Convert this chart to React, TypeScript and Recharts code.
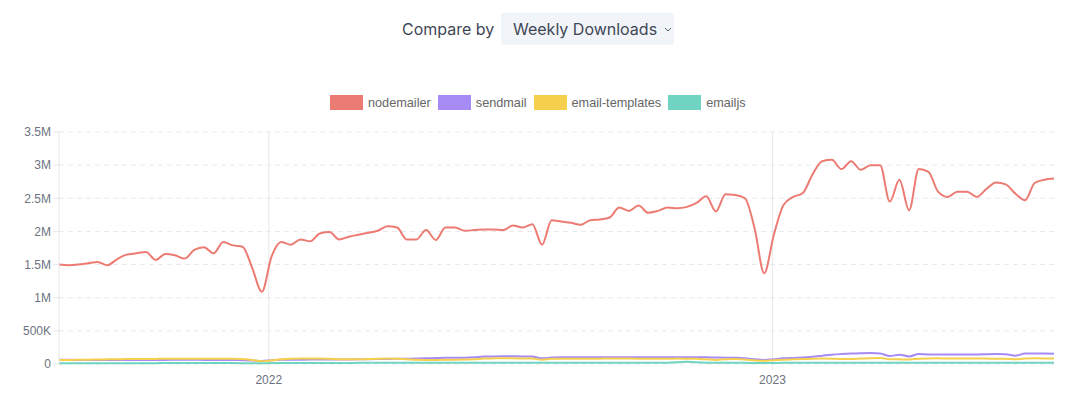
import { LineChart, Line, XAxis, YAxis, CartesianGrid, ReferenceLine } from 'recharts';

const seriesNames = ['nodemailer', 'sendmail', 'email-templates', 'emailjs'];
const seriesColors = ['#ec7b73', '#a78bf5', '#f6d04d', '#6fd4c1'];

// weekly buckets, first week starting 2021-08-02
const firstWeek = Date.UTC(2021, 7, 2);
const yearTicks = [Date.UTC(2022, 0, 1), Date.UTC(2023, 0, 1)];
const valueTicks = [0, 500000, 1000000, 1500000, 2000000, 2500000, 3000000, 3500000];

// values in millions
const nodemailer = [
  1.5, 1.49, 1.5, 1.52, 1.54, 1.49, 1.58, 1.65, 1.67, 1.69,
  1.57, 1.66, 1.64, 1.59, 1.72, 1.76, 1.67, 1.84, 1.79, 1.77,
  1.45, 1.09, 1.62, 1.84, 1.8, 1.88, 1.85, 1.97, 1.99, 1.88,
  1.92, 1.95, 1.98, 2.01, 2.08, 2.06, 1.88, 1.88, 2.02, 1.87,
  2.06, 2.06, 2.01, 2.02, 2.03, 2.03, 2.02, 2.09, 2.06, 2.11,
  1.8, 2.17, 2.15, 2.13, 2.1, 2.17, 2.18, 2.21, 2.36, 2.31,
  2.39, 2.28, 2.31, 2.36, 2.35, 2.37, 2.43, 2.53, 2.3, 2.56,
  2.55, 2.5, 2.05, 1.37, 1.95, 2.4, 2.52, 2.58, 2.86, 3.06,
  3.08, 2.94, 3.06, 2.93, 3.0, 3.0, 2.45, 2.78, 2.32, 2.94,
  2.9, 2.6, 2.52, 2.6, 2.6, 2.52, 2.64, 2.74, 2.71, 2.57,
  2.47, 2.73, 2.78, 2.8,
];

// values in thousands
const sendmail = [
  64, 63, 62, 61, 60, 60, 60, 61, 61, 62,
  62, 62, 63, 63, 63, 62, 62, 61, 60, 58,
  54, 45, 58, 63, 64, 65, 66, 67, 68, 68,
  69, 70, 72, 74, 76, 78, 80, 82, 85, 90,
  95, 93, 94, 100, 112, 115, 116, 116, 115, 112,
  85, 98, 100, 100, 101, 100, 100, 101, 101, 100,
  100, 100, 100, 100, 101, 103, 102, 100, 98, 96,
  93, 85, 72, 60, 72, 85, 92, 98, 110, 125,
  140, 150, 158, 163, 165, 160, 120, 140, 115, 150,
  145, 145, 143, 142, 142, 145, 148, 150, 148, 125,
  158, 160, 157, 155,
];

const emailTemplates = [
  62, 62, 63, 65, 68, 70, 72, 74, 75, 76,
  77, 78, 78, 79, 80, 80, 79, 78, 78, 76,
  62, 42, 55, 70, 78, 82, 83, 82, 78, 72,
  70, 70, 75, 80, 82, 80, 70, 65, 62, 62,
  63, 65, 68, 72, 82, 85, 86, 86, 84, 82,
  65, 78, 80, 80, 80, 80, 81, 82, 82, 82,
  81, 80, 80, 80, 82, 80, 78, 70, 62, 72,
  75, 68, 55, 48, 58, 65, 70, 75, 80, 82,
  80, 75, 76, 82, 88, 90, 72, 70, 68, 80,
  84, 85, 84, 84, 83, 83, 82, 80, 80, 72,
  82, 85, 84, 82,
];

const emailjs = [
  12, 12, 12, 12, 13, 13, 13, 13, 13, 13,
  13, 14, 14, 14, 14, 14, 14, 14, 14, 13,
  12, 10, 14, 15, 15, 15, 16, 16, 16, 16,
  16, 17, 17, 17, 17, 17, 18, 18, 18, 18,
  18, 18, 18, 18, 18, 18, 18, 18, 18, 18,
  17, 18, 18, 18, 18, 18, 18, 18, 18, 18,
  18, 18, 18, 19, 25, 35, 25, 19, 18, 18,
  18, 17, 15, 14, 16, 18, 18, 18, 18, 19,
  19, 19, 19, 19, 19, 19, 18, 18, 18, 19,
  19, 19, 19, 19, 19, 19, 19, 19, 19, 19,
  19, 19, 19, 19,
];

const WEEK = 7 * 24 * 3600 * 1000;

const data = nodemailer.map((v, i) => ({
  week: firstWeek + i * WEEK,
  nodemailer: v * 1e6,
  sendmail: sendmail[i] * 1e3,
  'email-templates': emailTemplates[i] * 1e3,
  emailjs: emailjs[i] * 1e3,
}));

const formatCount = (v: number) => {
  if (v === 0) return '0';
  if (v >= 1e6) return `${v / 1e6}M`;
  return `${v / 1e3}K`;
};

const formatYear = (v: number) => String(new Date(v).getUTCFullYear());

const chartFont = '"Liberation Sans", Arial, Helvetica, sans-serif';

function Header() {
  return (
    <div
      style={{
        position: 'absolute',
        top: 13,
        left: 0,
        width: 1080,
        height: 32,
        fontFamily: 'Inter, sans-serif',
        fontSize: 16,
        color: '#3f4756',
      }}
    >
      <span style={{ position: 'absolute', left: 402, top: 0, lineHeight: '32px' }}>Compare by</span>
      <div
        style={{
          position: 'absolute',
          left: 501,
          top: 0,
          width: 173,
          height: 32,
          background: '#f1f4f8',
          borderRadius: 2,
        }}
      >
        <span style={{ position: 'absolute', left: 12, top: 0, lineHeight: '32px' }}>Weekly Downloads</span>
        <svg width="8" height="6" style={{ position: 'absolute', left: 163, top: 14 }}>
          <path d="M1 1 L4 4 L7 1" fill="none" stroke="#555d6b" strokeWidth="1" />
        </svg>
      </div>
    </div>
  );
}

function ChartLegend() {
  return (
    <div
      style={{
        position: 'absolute',
        top: 95,
        left: 330,
        display: 'flex',
        alignItems: 'center',
        fontFamily: chartFont,
        fontSize: 12.7,
        color: '#666',
        whiteSpace: 'nowrap',
      }}
    >
      {seriesNames.map((name, i) => (
        <div key={name} style={{ display: 'flex', alignItems: 'center', marginRight: 7 }}>
          <span
            style={{
              display: 'inline-block',
              width: 31,
              height: 13,
              background: seriesColors[i],
              border: `1px solid ${seriesColors[i]}`,
              marginRight: 5,
            }}
          />
          <span>{name}</span>
        </div>
      ))}
    </div>
  );
}

export default function App() {
  return (
    <div
      style={{
        position: 'absolute',
        left: 0,
        top: 0,
        width: 1080,
        height: 397,
        background: '#fff',
        overflow: 'hidden',
      }}
    >
      <Header />
      <ChartLegend />
      <div style={{ position: 'absolute', left: 0, top: 80 }}>
        <LineChart
          width={1080}
          height={317}
          data={data}
          margin={{ top: 52, right: 26, bottom: 3, left: 0 }}
          style={{ fontFamily: chartFont }}
        >
          <CartesianGrid vertical={false} stroke="#e8e9ec" strokeDasharray="5 4" />
          {yearTicks.map((t) => (
            <ReferenceLine key={t} x={t} stroke="#e8e8e8" />
          ))}
          <XAxis
            dataKey="week"
            type="number"
            scale="time"
            domain={['dataMin', 'dataMax']}
            ticks={yearTicks}
            tickFormatter={formatYear}
            axisLine={false}
            tickLine={{ stroke: '#e8e8e8' }}
            tickMargin={5}
            tick={{ fill: '#6b7280', fontSize: 12 }}
            height={30}
          />
          <YAxis
            width={59}
            domain={[0, 3500000]}
            ticks={valueTicks}
            tickFormatter={formatCount}
            axisLine={{ stroke: '#e8e8e8' }}
            tickLine={{ stroke: '#e8e9ec' }}
            tick={{ fill: '#6b7280', fontSize: 12 }}
            interval={0}
          />
          {seriesNames.map((name, i) => (
            <Line
              key={name}
              type="monotone"
              dataKey={name}
              stroke={seriesColors[i]}
              strokeWidth={2}
              dot={false}
              isAnimationActive={false}
            />
          ))}
        </LineChart>
      </div>
    </div>
  );
}
